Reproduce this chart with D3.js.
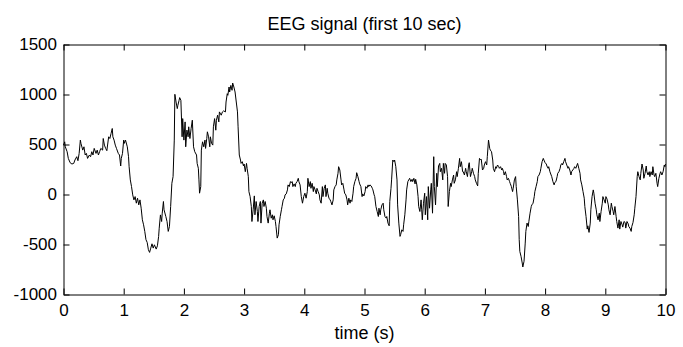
<!DOCTYPE html>
<html>
<head>
<meta charset="utf-8">
<script src="https://cdn.jsdelivr.net/npm/d3@7"></script>
<style>
  body { margin: 0; background: #fff; }
</style>
</head>
<body>
<div id="chart"></div>
<script>
// samples (time in s, amplitude)
const timeSec = [
  0.00,0.02,0.03,0.06,0.08,0.11,0.14,0.17,0.19,0.22,0.24,0.26,0.28,0.29,0.32,0.34,0.36,0.38,0.40,0.43,
  0.45,0.47,0.49,0.51,0.54,0.56,0.58,0.60,0.62,0.65,0.66,0.68,0.70,0.72,0.75,0.77,0.79,0.81,0.82,0.84,
  0.86,0.88,0.91,0.93,0.95,0.96,0.98,1.00,1.01,1.03,1.06,1.08,1.09,1.11,1.13,1.15,1.17,1.19,1.21,1.23,
  1.25,1.27,1.29,1.31,1.33,1.35,1.37,1.39,1.41,1.43,1.45,1.47,1.49,1.51,1.54,1.56,1.58,1.59,1.61,1.63,
  1.64,1.66,1.67,1.70,1.72,1.74,1.76,1.78,1.80,1.82,1.84,1.85,1.87,1.89,1.90,1.92,1.93,
  1.95,1.97,1.98,2.00,2.02,2.03,2.05,2.07,2.08,2.10,2.12,2.14,2.16,2.18,2.21,2.22,2.24,2.25,2.26,2.28,
  2.29,2.31,2.33,2.35,2.36,2.38,2.39,2.41,2.43,2.44,2.46,2.48,2.49,2.51,2.53,2.54,2.56,2.58,2.59,2.62,
  2.64,2.66,2.69,2.70,2.72,2.73,2.75,2.76,2.78,2.80,2.81,2.83,2.85,2.87,2.89,2.90,2.92,2.94,2.95,2.97,
  2.99,3.00,3.02,3.04,3.05,3.07,3.08,3.10,3.12,3.13,3.15,3.17,3.18,3.20,3.22,3.23,3.25,3.27,3.28,3.30,
  3.32,3.33,3.35,3.37,3.38,3.40,3.42,3.43,3.45,3.47,3.48,3.50,3.52,3.53,3.55,3.57,3.58,3.60,3.62,3.63,
  3.65,3.67,3.68,3.70,3.72,3.73,3.75,3.77,3.78,3.80,3.81,3.83,3.85,3.86,3.88,3.90,3.91,3.93,3.95,3.97,
  3.99,4.01,4.03,4.05,4.06,4.08,4.10,4.11,4.13,4.15,4.16,4.18,4.20,4.21,4.23,4.25,4.26,4.28,4.30,4.31,
  4.33,4.35,4.36,4.38,4.39,4.41,4.43,4.44,4.46,4.48,4.49,4.51,4.53,4.54,4.56,4.57,4.59,4.61,4.62,4.64,
  4.66,4.67,4.69,4.71,4.72,4.74,4.76,4.77,4.79,4.81,4.82,4.84,4.86,4.87,4.89,4.91,4.92,4.94,4.96,4.97,
  4.99,5.01,5.02,5.04,5.06,5.07,5.09,5.11,5.13,5.14,5.16,5.17,5.19,5.21,5.23,5.24,5.26,5.27,5.29,5.31,
  5.32,5.34,5.36,5.37,5.39,5.41,5.42,5.44,5.45,5.47,5.49,5.50,5.52,5.54,5.55,5.57,5.59,5.60,5.62,5.64,
  5.65,5.67,5.69,5.70,5.72,5.74,5.75,5.77,5.79,5.80,5.82,5.84,5.85,5.87,5.89,5.90,5.92,5.94,5.95,
  5.96,5.98,6.00,6.01,6.03,6.05,6.06,6.08,6.10,6.11,6.13,6.15,6.16,6.18,6.20,6.21,6.23,6.25,6.26,6.28,
  6.30,6.31,6.33,6.34,6.36,6.38,6.39,6.41,6.43,6.44,6.46,6.48,6.49,6.51,6.53,6.54,6.56,6.58,6.59,6.61,
  6.63,6.64,6.66,6.68,6.69,6.71,6.73,6.74,6.76,6.78,6.79,6.81,6.83,6.84,6.86,6.88,6.89,6.91,6.93,6.94,
  6.96,6.98,6.99,7.01,7.03,7.04,7.06,7.08,7.09,7.11,7.13,7.14,7.16,7.18,7.19,7.21,7.23,7.24,7.26,7.28,
  7.29,7.31,7.32,7.34,7.36,7.37,7.39,7.41,7.42,7.44,7.46,7.47,7.49,7.51,7.52,7.54,7.56,7.57,7.58,7.60,
  7.62,7.63,7.65,7.67,7.68,7.70,7.72,7.73,7.75,7.77,7.78,7.80,7.82,7.83,7.85,7.87,7.88,7.90,7.92,7.93,
  7.95,7.97,7.98,8.00,8.02,8.03,8.05,8.06,8.08,8.10,8.11,8.13,8.15,8.16,8.18,8.20,8.21,8.23,8.25,8.26,
  8.28,8.29,8.31,8.33,8.34,8.36,8.38,8.39,8.41,8.43,8.44,8.46,8.48,8.49,8.51,8.53,8.54,8.56,8.58,8.59,
  8.61,8.63,8.65,8.66,8.68,8.70,8.71,8.73,8.75,8.76,8.78,8.80,8.81,8.83,8.85,8.86,8.88,8.90,8.91,8.93,
  8.95,8.96,8.98,9.00,9.01,9.03,9.05,9.06,9.08,9.10,9.11,9.13,9.14,9.16,9.18,9.19,9.21,9.23,9.24,9.26,
  9.28,9.29,9.31,9.33,9.34,9.36,9.38,9.39,9.41,9.43,9.44,9.46,9.48,9.49,9.51,9.53,9.54,9.56,9.58,9.59,
  9.61,9.63,9.64,9.66,9.68,9.69,9.71,9.73,9.74,9.76,9.78,9.79,9.81,9.82,9.84,9.86,9.87,9.89,9.91,9.92,
  9.94,9.96,9.98,9.99,10.00
];

const eeg = [
  494,527,477,428,361,318,305,311,345,378,338,411,544,511,444,477,395,411,361,395,
  378,428,395,461,411,444,395,428,461,444,560,494,461,438,577,560,610,660,577,544,
  494,461,411,395,285,361,411,544,511,544,477,378,278,146,79,-4,-54,-21,-87,-37,
  -104,-54,-137,-253,-303,-369,-452,-479,-552,-579,-536,-493,-536,-503,-546,-513,-420,-337,-204,-270,
  -187,-70,-153,-220,-270,-369,-320,-120,112,179,544,1002,925,859,892,942,969,
  942,577,759,544,726,477,644,577,677,560,660,743,477,428,395,311,262,146,13,79,
  444,527,477,544,461,560,627,577,477,577,511,494,677,759,643,743,793,726,826,793,
  826,836,826,925,1008,992,1075,1025,1091,1042,1115,1075,1025,925,826,677,395,345,311,328,
  285,305,228,311,262,179,29,-21,-120,-270,-153,-14,-203,-70,-170,-270,-120,-70,-286,-87,
  -54,-120,-70,-137,-220,-286,-187,-153,-237,-203,-253,-213,-270,-320,-436,-402,-303,-220,-153,-120,
  -54,-37,-4,6,46,96,79,129,119,129,79,106,79,112,129,162,129,96,-21,-87,
  -21,13,-37,29,162,79,129,62,112,29,79,46,6,62,29,-4,-54,-87,79,-21,
  62,96,-21,62,13,-37,-54,-70,-104,-54,46,79,96,146,212,278,245,146,96,112,
  46,13,-4,-54,-104,-37,-87,-54,-70,13,79,129,162,218,179,129,106,79,-21,6,
  -14,29,79,62,96,79,96,86,62,46,-4,-21,-120,-170,-220,-137,-203,-153,-104,-87,
  -153,-220,-236,-220,-286,-313,-70,62,146,345,328,345,278,146,-104,-286,-419,-402,-353,-369,
  -303,-203,-54,46,129,152,162,129,152,129,162,106,152,96,-21,-120,-170,-54,-153,
  -253,-87,13,-203,-21,-253,79,-137,46,112,-187,378,79,-104,212,79,285,311,228,262,
  146,311,212,311,295,179,-120,29,112,79,146,195,112,146,228,179,262,361,278,328,
  228,228,195,262,228,179,295,318,179,228,262,212,179,146,112,86,212,361,345,351,
  245,262,295,328,295,378,544,461,444,428,345,262,228,278,262,295,278,262,278,245,
  262,228,195,228,179,146,162,129,112,79,29,62,146,179,79,-54,-220,-452,-569,-618,
  -685,-725,-668,-486,-369,-286,-320,-270,-187,-120,-104,-87,-21,29,79,129,179,195,228,262,
  328,361,345,318,305,285,262,278,228,195,179,129,96,119,129,179,212,228,262,295,
  311,295,328,361,328,295,262,278,245,195,228,245,262,278,262,295,311,262,212,146,
  96,29,-37,-120,-220,-346,-313,-379,-286,-153,-21,46,13,-87,-153,-203,-253,-187,-270,-170,
  -87,-21,-54,-87,-21,-47,-104,-153,-203,-87,-120,-170,-203,-120,-220,-270,-336,-253,-346,-270,
  -303,-326,-270,-280,-336,-270,-293,-320,-336,-369,-320,-280,-203,-137,-21,179,228,179,146,212,
  305,245,162,212,285,228,195,228,179,228,195,278,195,179,212,112,79,162,212,228,
  195,228,295,278,305
];

const xTicks = [0, 1, 2, 3, 4, 5, 6, 7, 8, 9, 10];
const yTicks = [-1000, -500, 0, 500, 1000, 1500];
const titleText = 'EEG signal (first 10 sec)';
const xLabel = 'time (s)';

const width = 683;
const height = 347;
const margin = { top: 44.5, right: 17.5, bottom: 52.5, left: 63.5 };
const font = '"Liberation Sans", Arial, sans-serif';

const svg = d3.select('#chart')
  .append('svg')
  .attr('width', width)
  .attr('height', height)
  .style('display', 'block');

svg.append('rect').attr('width', width).attr('height', height).attr('fill', '#fff');

const x = d3.scaleLinear().domain([0, 10]).range([margin.left, width - margin.right]);
const y = d3.scaleLinear().domain([-1000, 1500]).range([height - margin.bottom, margin.top]);

const data = timeSec.map((t, i) => ({ t: t, v: eeg[i] }));

const line = d3.line()
  .x(d => x(d.t))
  .y(d => y(d.v));

svg.append('path')
  .datum(data)
  .attr('fill', 'none')
  .attr('stroke', '#000')
  .attr('stroke-width', 1)
  .attr('stroke-linejoin', 'round')
  .attr('d', line);

// plain labels, hyphen minus like matlab
const plain = d => String(d);

function styleAxis(g) {
  g.attr('font-family', font).attr('font-size', 17);
  g.select('.domain').attr('stroke', '#000').attr('stroke-width', 1);
  g.selectAll('.tick line').attr('stroke', '#000');
  g.selectAll('.tick text').attr('fill', '#000');
}

svg.append('g')
  .attr('transform', `translate(0,${height - margin.bottom})`)
  .call(d3.axisBottom(x).tickValues(xTicks).tickFormat(plain).tickSizeInner(-6).tickSizeOuter(0).tickPadding(9))
  .call(styleAxis);

svg.append('g')
  .attr('transform', `translate(0,${margin.top})`)
  .call(d3.axisTop(x).tickValues(xTicks).tickSizeInner(-6).tickSizeOuter(0).tickFormat(''))
  .call(styleAxis);

svg.append('g')
  .attr('transform', `translate(${margin.left},0)`)
  .call(d3.axisLeft(y).tickValues(yTicks).tickFormat(plain).tickSizeInner(-6).tickSizeOuter(0).tickPadding(6.5))
  .call(styleAxis);

svg.append('g')
  .attr('transform', `translate(${width - margin.right},0)`)
  .call(d3.axisRight(y).tickValues(yTicks).tickSizeInner(-6).tickSizeOuter(0).tickFormat(''))
  .call(styleAxis);

svg.append('text')
  .attr('x', (margin.left + width - margin.right) / 2)
  .attr('y', 30)
  .attr('text-anchor', 'middle')
  .attr('font-family', font)
  .attr('font-size', 18)
  .text(titleText);

svg.append('text')
  .attr('x', (margin.left + width - margin.right) / 2)
  .attr('y', 339)
  .attr('text-anchor', 'middle')
  .attr('font-family', font)
  .attr('font-size', 18)
  .text(xLabel);
</script>
</body>
</html>
